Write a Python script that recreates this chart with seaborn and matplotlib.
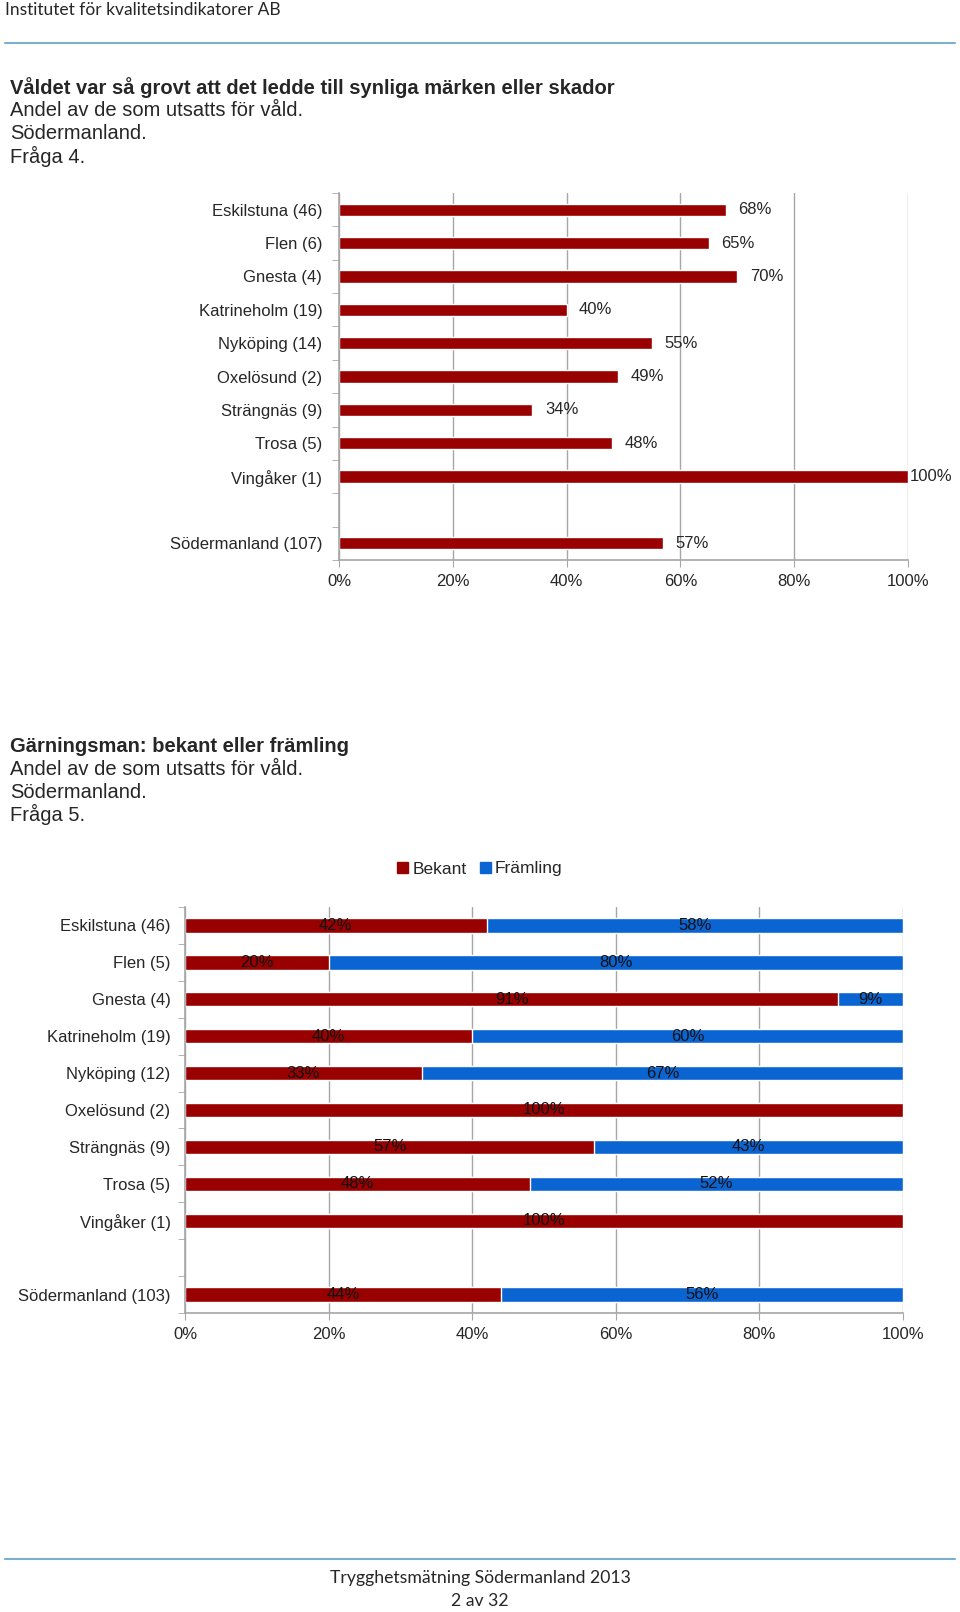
import numpy as np
import pandas as pd
import matplotlib
matplotlib.use("Agg")
import matplotlib.pyplot as plt
import matplotlib.patches as mpatches
import seaborn as sns

# data ======================================
kommuner_1 = [
    "Eskilstuna (46)",
    "Flen (6)",
    "Gnesta (4)",
    "Katrineholm (19)",
    "Nyköping (14)",
    "Oxelösund (2)",
    "Strängnäs (9)",
    "Trosa (5)",
    "Vingåker (1)",
    "Södermanland (107)",
]
synliga_skador = [68, 65, 70, 40, 55, 49, 34, 48, 100, 57]

kommuner_2 = [
    "Eskilstuna (46)",
    "Flen (5)",
    "Gnesta (4)",
    "Katrineholm (19)",
    "Nyköping (12)",
    "Oxelösund (2)",
    "Strängnäs (9)",
    "Trosa (5)",
    "Vingåker (1)",
    "Södermanland (103)",
]
bekant = [42, 20, 91, 40, 33, 100, 57, 48, 100, 44]
framling = [58, 80, 9, 60, 67, 0, 43, 52, 0, 56]

x_ticks = [0, 20, 40, 60, 80, 100]
x_ticklabels = ["0%", "20%", "40%", "60%", "80%", "100%"]

RED = "#990000"
BLUE = "#0a64d2"
GRID = "#a6a6a6"
LINE = "#7ab0c8"

sns.set_style("white")
plt.rcParams["font.family"] = ["Liberation Sans", "DejaVu Sans"]

W, H = 960, 1612
fig = plt.figure(figsize=(W / 100, H / 100), dpi=100)


def px_axes(left, right, top, bottom):
    return fig.add_axes([left / W, 1 - bottom / H, (right - left) / W, (bottom - top) / H])


def style_axes(ax, ypad):
    n = 11
    ax.set_xlim(0, 100)
    ax.set_ylim(n - 0.5, -0.5)
    ax.set_xticks(x_ticks)
    ax.set_xticklabels(x_ticklabels)
    ax.set_xlabel("")
    ax.set_ylabel("")
    ax.set_yticks(np.arange(-0.5, n, 1.0), minor=True)
    ax.tick_params(axis="y", which="major", length=0, pad=ypad, labelsize=12)
    ax.tick_params(axis="y", which="minor", length=5, color=GRID, direction="out", left=True)
    ax.tick_params(axis="x", length=5, color=GRID, direction="out", bottom=True, pad=5, labelsize=12)
    for s in ["top", "right"]:
        ax.spines[s].set_visible(False)
    for s in ["left", "bottom"]:
        ax.spines[s].set_color(GRID)
        ax.spines[s].set_linewidth(1.2)
    ax.set_axisbelow(True)
    ax.grid(axis="x", color=GRID, linewidth=1.0)
    ax.grid(axis="y", visible=False)


# page header / footer
fig.text(5 / W, 1 - 10 / H, "Institutet för kvalitetsindikatorer AB", fontsize=12.5,
         family=["Lato", "DejaVu Sans"], va="center", ha="left")
fig.add_artist(plt.Line2D([5 / W, 955 / W], [1 - 43 / H, 1 - 43 / H], color=LINE, linewidth=1.5))
fig.add_artist(plt.Line2D([5 / W, 955 / W], [1 - 1559 / H, 1 - 1559 / H], color=LINE, linewidth=1.5))
fig.text(480 / W, 1 - 1578 / H, "Trygghetsmätning Södermanland 2013", fontsize=12.7,
         family=["Lato", "DejaVu Sans"], va="center", ha="center")
fig.text(480 / W, 1 - 1601 / H, "2 av 32", fontsize=12.7,
         family=["Lato", "DejaVu Sans"], va="center", ha="center")

# titles
title_1 = ["Andel av de som utsatts för våld.", "Södermanland.", "Fråga 4."]
fig.text(10 / W, 1 - 88 / H, "Våldet var så grovt att det ledde till synliga märken eller skador",
         fontsize=14.5, fontweight="bold", va="center")
for i, t in enumerate(title_1):
    fig.text(10 / W, 1 - (111 + 22.6 * i) / H, t, fontsize=14.5, va="center")

title_2 = ["Andel av de som utsatts för våld.", "Södermanland.", "Fråga 5."]
fig.text(10 / W, 1 - 747 / H, "Gärningsman: bekant eller främling",
         fontsize=14.5, fontweight="bold", va="center")
for i, t in enumerate(title_2):
    fig.text(10 / W, 1 - (769.5 + 22.6 * i) / H, t, fontsize=14.5, va="center")

# chart 1 ======================================
order_1 = kommuner_1[:9] + [" "] + kommuner_1[9:]
df1 = pd.DataFrame({"Kommun": kommuner_1, "Andel": synliga_skador})
ax1 = px_axes(339, 908, 193, 560)
sns.barplot(data=df1, x="Andel", y="Kommun", order=order_1, orient="h",
            color=RED, saturation=1, width=0.37, ax=ax1)
c = ax1.containers[0]
# labels outside the bars; the full-length bar gets its label right at the end
ax1.bar_label(c, labels=[f"{v}%" if v < 100 else "" for v in synliga_skador], padding=9, fontsize=12)
ax1.bar_label(c, labels=[f"{v}%" if v >= 100 else "" for v in synliga_skador], padding=1, fontsize=12)
style_axes(ax1, 12)

# chart 2 ======================================
order_2 = kommuner_2[:9] + [" "] + kommuner_2[9:]
df2 = pd.DataFrame({"Kommun": kommuner_2, "Bekant": bekant, "Främling": framling})
df2["Totalt"] = df2["Bekant"] + df2["Främling"]
ax2 = px_axes(185, 903, 907, 1313)
sns.barplot(data=df2, x="Totalt", y="Kommun", order=order_2, orient="h",
            color=BLUE, saturation=1, width=0.39, ax=ax2)
sns.barplot(data=df2, x="Bekant", y="Kommun", order=order_2, orient="h",
            color=RED, saturation=1, width=0.39, ax=ax2)
for _, row in df2.iterrows():
    pos = order_2.index(row["Kommun"])
    if row["Bekant"] > 0:
        ax2.text(row["Bekant"] / 2, pos, f"{row['Bekant']}%", ha="center", va="center",
                 fontsize=12, color="#111111")
    if row["Främling"] > 0:
        ax2.text(row["Bekant"] + row["Främling"] / 2, pos, f"{row['Främling']}%", ha="center",
                 va="center", fontsize=12, color="#111111")
style_axes(ax2, 10.4)

handles = [mpatches.Patch(color=RED, label="Bekant"), mpatches.Patch(color=BLUE, label="Främling")]
fig.legend(handles=handles, loc="center", bbox_to_anchor=(480 / W, 1 - 869 / H), ncol=2,
           frameon=False, fontsize=12.5, handlelength=0.6, handleheight=0.6,
           handletextpad=0.25, columnspacing=0.8)

fig.savefig("out.png", dpi=100)
